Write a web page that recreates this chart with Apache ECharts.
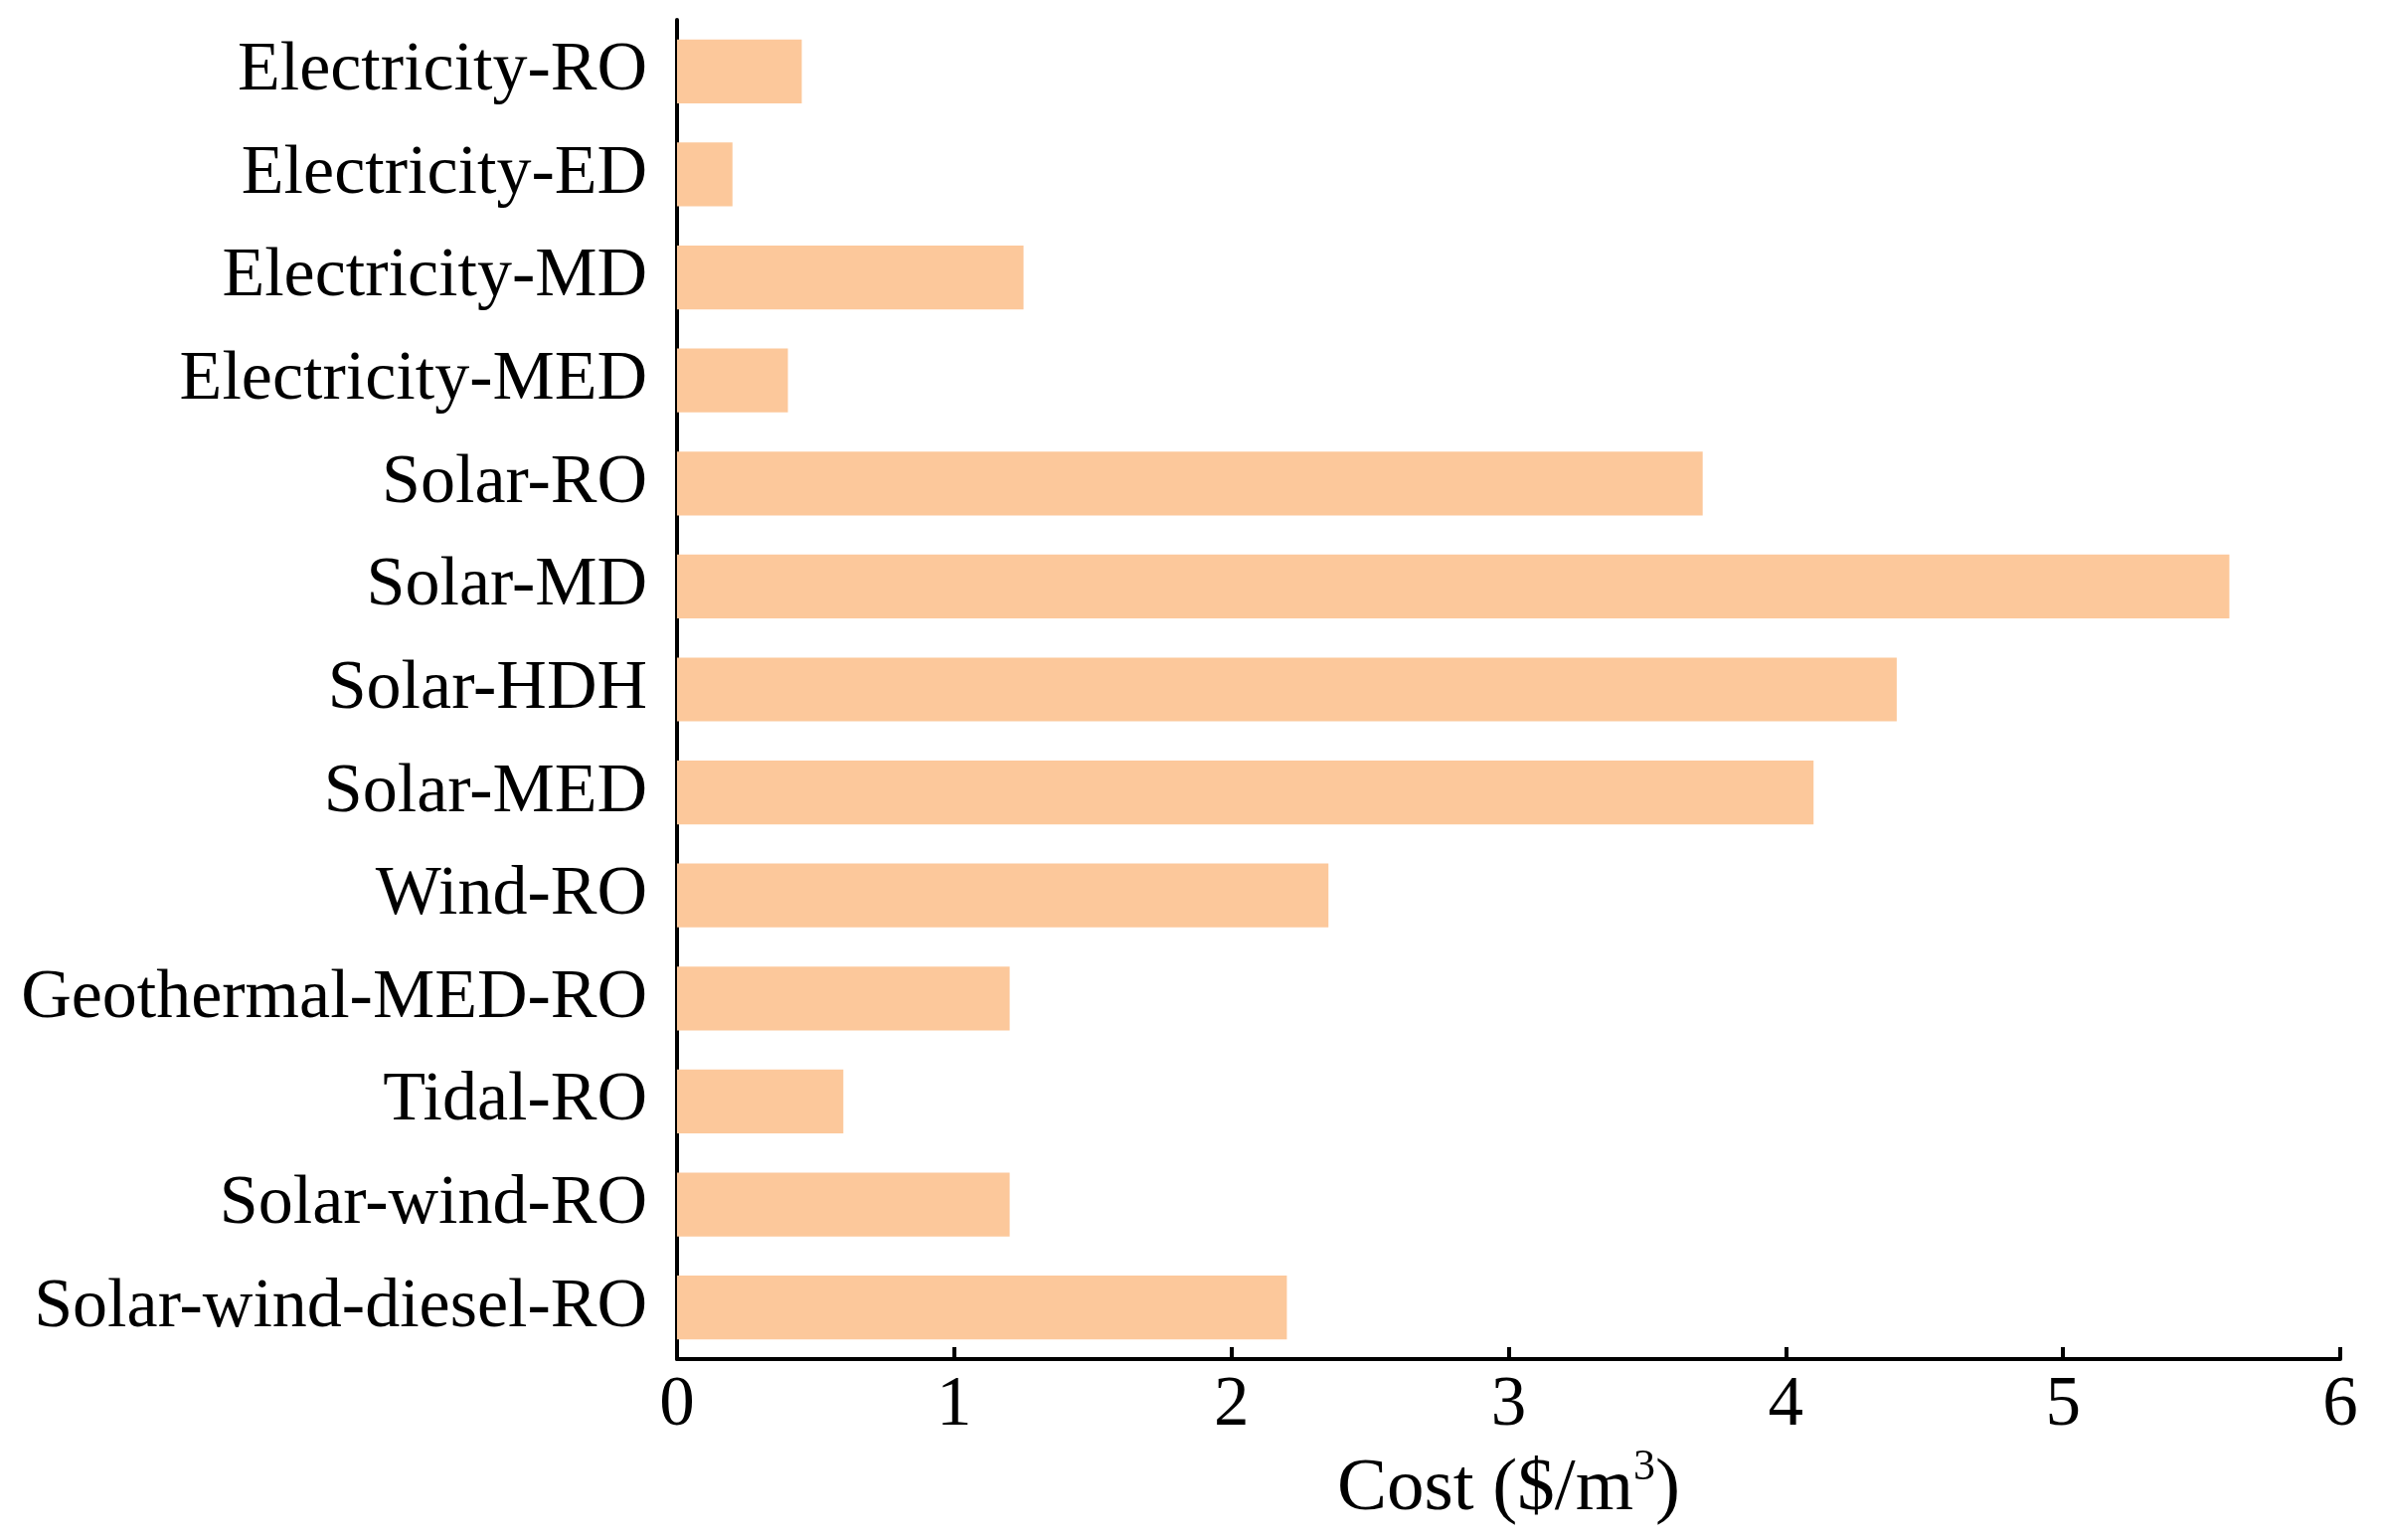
<!DOCTYPE html>
<html>
<head>
<meta charset="utf-8">
<script src="https://cdn.jsdelivr.net/npm/echarts@6/dist/echarts.min.js"></script>
<style>
html,body{margin:0;padding:0;background:#fff;}
#chart{width:2397px;height:1549px;}
</style>
</head>
<body>
<div id="chart"></div>
<script>
const categories = ["Electricity-RO","Electricity-ED","Electricity-MD","Electricity-MED","Solar-RO","Solar-MD","Solar-HDH","Solar-MED","Wind-RO","Geothermal-MED-RO","Tidal-RO","Solar-wind-RO","Solar-wind-diesel-RO"];
const costValues = [0.45, 0.20, 1.25, 0.40, 3.70, 5.60, 4.40, 4.10, 2.35, 1.20, 0.60, 1.20, 2.20];
const xTicks = [0, 1, 2, 3, 4, 5, 6];

const font = '"Liberation Serif","Times New Roman",serif';
const chart = echarts.init(document.getElementById('chart'));
chart.setOption({
  backgroundColor: '#ffffff',
  animation: false,
  grid: {left: 681, right: 43, top: 20, bottom: 182, containLabel: false},
  xAxis: {
    type: 'value',
    min: xTicks[0], max: xTicks[xTicks.length-1], interval: 1,
    name: 'Cost ($/m{sup|3})',
    nameLocation: 'middle',
    nameGap: 76,
    nameTextStyle: {fontFamily: font, fontSize: 75, color: '#000',
      rich: {sup: {fontFamily: font, fontSize: 44, color: '#000', verticalAlign: 'top', padding: [0,0,42,0]}}},
    axisLine: {show: true, lineStyle: {color: '#000', width: 4}},
    axisTick: {show: true, inside: true, length: 12, lineStyle: {color: '#000', width: 4}},
    axisLabel: {fontFamily: font, fontSize: 71, color: '#000', margin: 12},
    splitLine: {show: false}
  },
  yAxis: {
    type: 'category',
    data: categories,
    inverse: true,
    axisLine: {show: true, lineStyle: {color: '#000', width: 4}},
    axisTick: {show: false},
    axisLabel: {fontFamily: font, fontSize: 70, color: '#000', margin: 30},
    splitLine: {show: false}
  },
  series: [{
    type: 'bar',
    data: costValues,
    barWidth: '62%',
    itemStyle: {color: '#FCC89B'}
  }]
});
</script>
</body>
</html>
